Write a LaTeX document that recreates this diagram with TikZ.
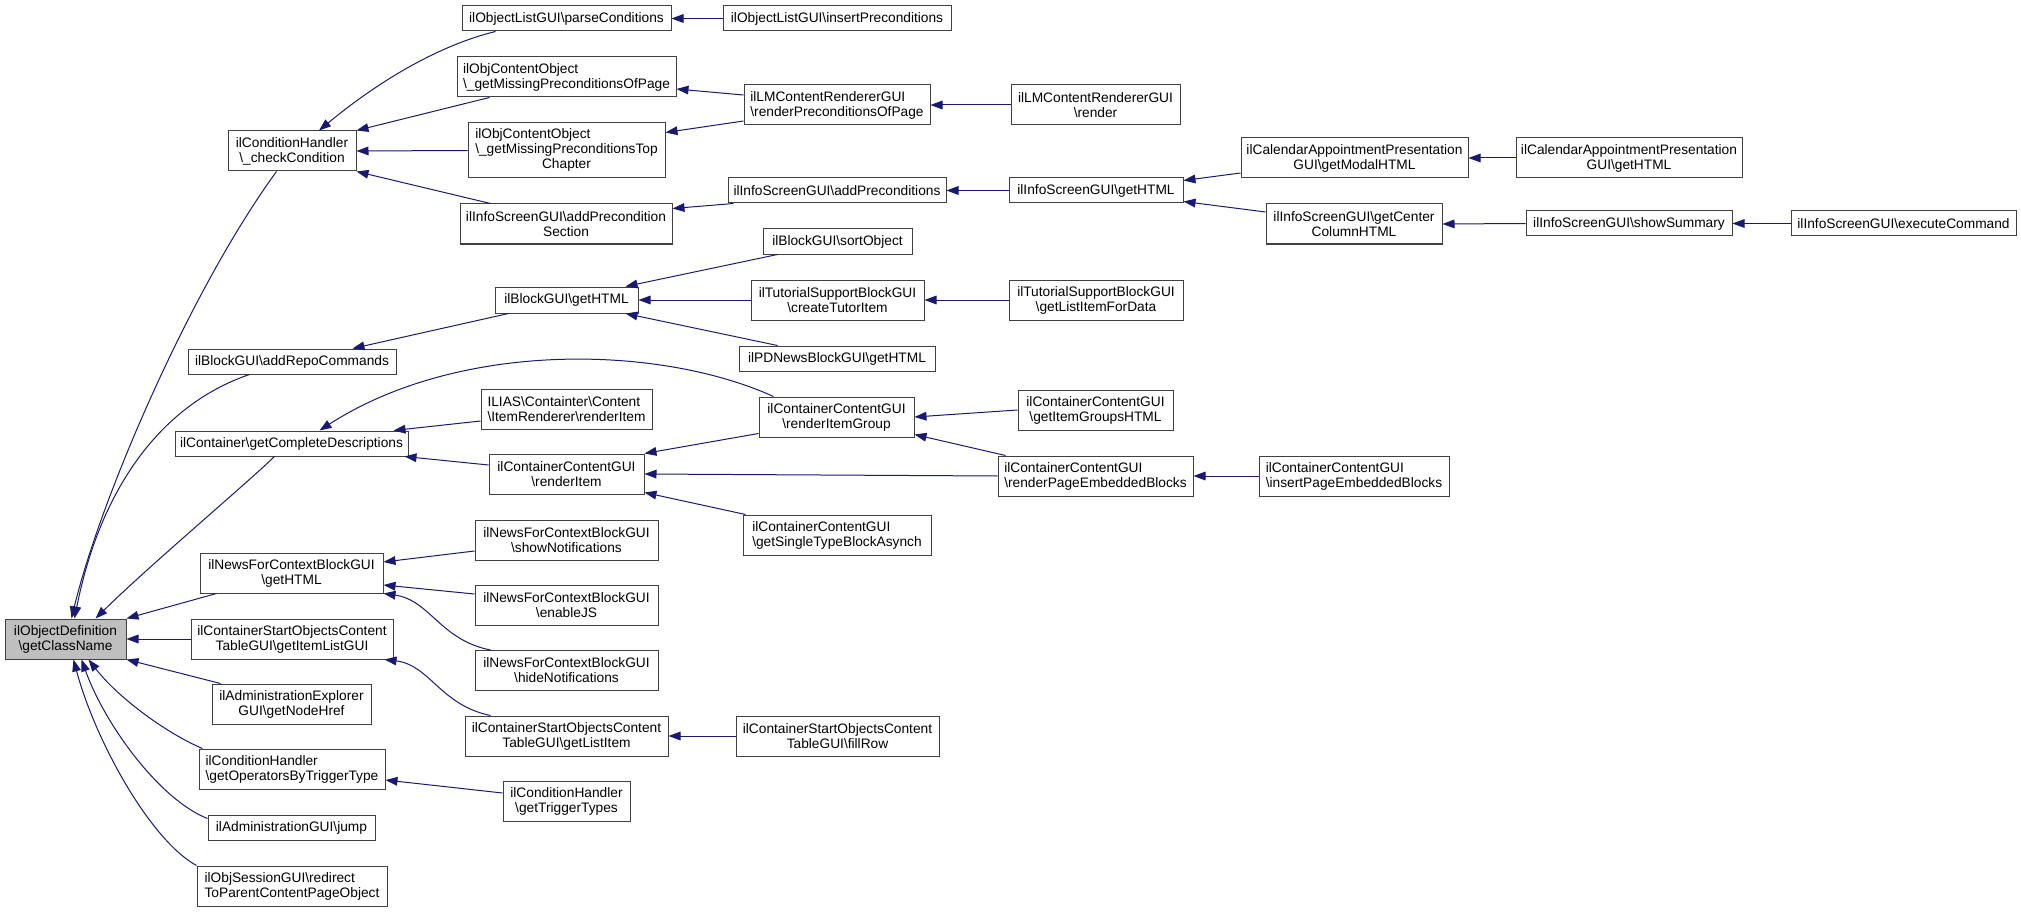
\documentclass[tikz,border=0pt]{standalone}
\usepackage{fontspec}
\setmainfont{Liberation Sans}
\usetikzlibrary{arrows.meta,calc}
\definecolor{edgecol}{HTML}{191970}
\definecolor{bordercol}{HTML}{404040}
\definecolor{hilite}{HTML}{BFBFBF}
\newcommand{\bksl}{\textbackslash}
\newcommand{\boxfont}{\fontsize{10.3}{11.2}\selectfont}
\tikzset{
  box/.style={draw=bordercol, line width=0.75pt, fill=white, inner sep=0pt, font=\boxfont},
  edge/.style={draw=edgecol, line width=0.75pt, -{Triangle[length=9pt,width=6.5pt]}}
}
\newcommand{\mkbox}[7]{\node[box, align=#6, minimum width=#4*0.75pt, minimum height=#5*0.75pt] (#1) at (#2,#3) {#7};}
\begin{document}
\begin{tikzpicture}[x=0.75pt, y=-0.75pt]
\useasboundingbox (0,0) rectangle (2021,913);
% column 1
\node[box, fill=hilite, align=center, minimum width=121*0.75pt, minimum height=40*0.75pt] (gcn) at (65.5,639) {ilObjectDefinition\\\bksl getClassName};
% column 2
\mkbox{cc}{292}{151}{128}{40}{center}{ilConditionHandler\\\bksl\_checkCondition}
\mkbox{arc}{292}{361.5}{208}{25}{center}{ilBlockGUI\bksl addRepoCommands}
\mkbox{gcd}{291.5}{443.5}{233}{25}{center}{ilContainer\bksl getCompleteDescriptions}
\mkbox{ngh}{291.5}{573}{183}{40}{center}{ilNewsForContextBlockGUI\\\bksl getHTML}
\mkbox{gilg}{292}{639}{202}{40}{center}{ilContainerStartObjectsContent\\TableGUI\bksl getItemListGUI}
\mkbox{ae}{291.5}{704}{159}{40}{center}{ilAdministrationExplorer\\GUI\bksl getNodeHref}
\mkbox{gobt}{292}{769}{186}{40}{left}{ilConditionHandler\\\bksl getOperatorsByTriggerType}
\mkbox{jump}{291.5}{827.5}{167}{25}{center}{ilAdministrationGUI\bksl jump}
\mkbox{rd}{292}{886}{190}{40}{left}{ilObjSessionGUI\bksl redirect\\ToParentContentPageObject}
% column 3
\mkbox{pc}{566.5}{18.5}{209}{25}{center}{ilObjectListGUI\bksl parseConditions}
\mkbox{op}{566.5}{77}{219}{40}{left}{ilObjContentObject\\\bksl\_getMissingPreconditionsOfPage}
\node[box, minimum width=197*0.75pt, minimum height=55*0.75pt] (tc) at (566.5,150.5) {\begin{tabular}{@{}l@{}}ilObjContentObject\\\bksl\_getMissingPreconditionsTop\\\multicolumn{1}{@{}c@{}}{Chapter}\end{tabular}};
\mkbox{aps}{566}{224}{212}{40}{center}{ilInfoScreenGUI\bksl addPrecondition\\Section}
\mkbox{bgh}{566.5}{300}{143}{26}{center}{ilBlockGUI\bksl getHTML}
\mkbox{il}{566.5}{409}{171}{40}{left}{ILIAS\bksl Containter\bksl Content\\\bksl ItemRenderer\bksl renderItem}
\mkbox{ri}{566.5}{474}{155}{40}{center}{ilContainerContentGUI\\\bksl renderItem}
\mkbox{show}{566.5}{540}{183}{40}{center}{ilNewsForContextBlockGUI\\\bksl showNotifications}
\mkbox{ejs}{566.5}{605}{183}{40}{center}{ilNewsForContextBlockGUI\\\bksl enableJS}
\mkbox{hide}{566.5}{670.5}{183}{40}{center}{ilNewsForContextBlockGUI\\\bksl hideNotifications}
\mkbox{gli}{566.5}{736}{203}{40}{center}{ilContainerStartObjectsContent\\TableGUI\bksl getListItem}
\mkbox{gtt}{566.5}{801}{127}{40}{center}{ilConditionHandler\\\bksl getTriggerTypes}
% column 4
\mkbox{ip}{837}{18.5}{228}{25}{center}{ilObjectListGUI\bksl insertPreconditions}
\mkbox{rpp}{837}{105}{186}{40}{left}{ilLMContentRendererGUI\\\bksl renderPreconditionsOfPage}
\mkbox{ap}{837}{190.5}{218}{25}{center}{ilInfoScreenGUI\bksl addPreconditions}
\mkbox{so}{837.5}{241.5}{149}{25}{center}{ilBlockGUI\bksl sortObject}
\mkbox{cti}{837.5}{300}{173}{40}{center}{ilTutorialSupportBlockGUI\\\bksl createTutorItem}
\mkbox{pd}{837}{358.5}{196}{25}{center}{ilPDNewsBlockGUI\bksl getHTML}
\mkbox{rig}{836.5}{417}{155}{40}{center}{ilContainerContentGUI\\\bksl renderItemGroup}
\mkbox{gst}{837}{535}{188}{40}{left}{ilContainerContentGUI\\\bksl getSingleTypeBlockAsynch}
\mkbox{fr}{837.5}{736}{203}{40}{center}{ilContainerStartObjectsContent\\TableGUI\bksl fillRow}
% column 5
\mkbox{lmr}{1095.5}{105}{169}{40}{center}{ilLMContentRendererGUI\\\bksl render}
\mkbox{isgh}{1096}{190.5}{174}{25}{center}{ilInfoScreenGUI\bksl getHTML}
\mkbox{lifd}{1096}{300}{174}{40}{center}{ilTutorialSupportBlockGUI\\\bksl getListItemForData}
\mkbox{gig}{1095.5}{410}{155}{40}{center}{ilContainerContentGUI\\\bksl getItemGroupsHTML}
\mkbox{rpeb}{1095.5}{476}{195}{40}{left}{ilContainerContentGUI\\\bksl renderPageEmbeddedBlocks}
% column 6
\mkbox{modal}{1354.5}{158}{227}{40}{center}{ilCalendarAppointmentPresentation\\GUI\bksl getModalHTML}
\mkbox{ccol}{1354}{224}{176}{40}{center}{ilInfoScreenGUI\bksl getCenter\\ColumnHTML}
\mkbox{ipeb}{1354}{476}{190}{40}{left}{ilContainerContentGUI\\\bksl insertPageEmbeddedBlocks}
% column 7
\mkbox{calgh}{1629}{158}{226}{40}{center}{ilCalendarAppointmentPresentation\\GUI\bksl getHTML}
\mkbox{sum}{1629}{223.5}{206}{25}{center}{ilInfoScreenGUI\bksl showSummary}
% column 8
\mkbox{exec}{1903.5}{223.5}{225}{25}{center}{ilInfoScreenGUI\bksl executeCommand}

% edges into getClassName
\draw[edge] ($(cc.south west)+(49,0)$) .. controls (190,290) and (100,500) .. ($(gcn.north west)+(67,0)$);
\draw[edge] ($(arc.south west)+(62,0)$) .. controls (160,405) and (100,490) .. ($(gcn.north west)+(70,0)$);
\draw[edge] ($(gcd.south west)+(100,0)$) .. controls (245,485) and (150,565) .. ($(gcn.north west)+(91,0)$);
\draw[edge] ($(ngh.south west)+(17,0)$) -- (gcn.north east);
\draw[edge] (gilg.west) -- (gcn.east);
\draw[edge] ($(ae.north west)+(9,0)$) -- (gcn.south east);
\draw[edge] ($(gobt.north west)+(4,0)$) .. controls (170,735) and (120,700) .. ($(gcn.south west)+(84,0)$);
\draw[edge] ($(jump.west)+(0,-9)$) .. controls (160,800) and (105,725) .. ($(gcn.south west)+(77,0)$);
\draw[edge] (rd.north west) .. controls (150,840) and (95,740) .. ($(gcn.south west)+(69,0)$);
% edges into checkCondition
\draw[edge] ($(pc.south west)+(34,0)$) .. controls (440,45) and (380,80) .. ($(cc.north)+(27,0)$);
\draw[edge] ($(op.south west)+(33,0)$) -- (cc.north east);
\draw[edge] (tc.west) -- (cc.east);
\draw[edge] ($(aps.north west)+(31,0)$) -- (cc.south east);
% preconditions branch
\draw[edge] (ip.west) -- (pc.east);
\draw[edge] ($(rpp.west)+(0,-10)$) -- ($(op.east)+(0,12)$);
\draw[edge] ($(rpp.west)+(0,16)$) -- ($(tc.east)+(0,-18)$);
\draw[edge] ($(ap.south west)+(6,0)$) -- ($(aps.north east)+(0,5)$);
\draw[edge] (lmr.west) -- (rpp.east);
\draw[edge] (isgh.west) -- (ap.east);
\draw[edge] ($(modal.west)+(0,15)$) -- ($(isgh.east)+(0,-10)$);
\draw[edge] ($(ccol.west)+(0,-12)$) -- ($(isgh.east)+(0,11)$);
\draw[edge] (calgh.west) -- (modal.east);
\draw[edge] (sum.west) -- (ccol.east);
\draw[edge] (exec.west) -- (sum.east);
% block branch
\draw[edge] ($(bgh.south west)+(14,0)$) -- ($(arc.north east)+(-44,0)$);
\draw[edge] ($(so.south west)+(15,0)$) -- ($(bgh.north east)+(-13,0)$);
\draw[edge] (cti.west) -- (bgh.east);
\draw[edge] ($(pd.north west)+(39,0)$) -- ($(bgh.south east)+(-13,0)$);
\draw[edge] (lifd.west) -- (cti.east);
% container branch
\draw[edge] ($(rig.north west)+(15,0)$) .. controls (660,345) and (460,340) .. ($(gcd.north west)+(145,0)$);
\draw[edge] ($(il.west)+(0,12)$) -- ($(gcd.north east)+(-15,0)$);
\draw[edge] ($(ri.west)+(0,-9)$) -- ($(gcd.south east)+(-4,0)$);
\draw[edge] ($(rig.south west)+(0,-4)$) -- (ri.north east);
\draw[edge] (rpeb.west) -- (ri.east);
\draw[edge] ($(gst.north west)+(3,0)$) -- ($(ri.south east)+(0,-2)$);
\draw[edge] (gig.west) -- (rig.east);
\draw[edge] ($(rpeb.north west)+(8,0)$) -- ($(rig.south east)+(0,-3)$);
\draw[edge] (ipeb.west) -- (rpeb.east);
% news branch
\draw[edge] ($(show.west)+(0,11)$) -- ($(ngh.east)+(0,-11)$);
\draw[edge] ($(ejs.west)+(0,-11)$) -- ($(ngh.east)+(0,12)$);
\draw[edge] ($(hide.north west)+(16,0)$) .. controls (440,640) and (430,600) .. (ngh.south east);
% start objects branch
\draw[edge] ($(gli.north west)+(26,0)$) .. controls (440,705) and (430,665) .. ($(gilg.south east)+(-9,0)$);
\draw[edge] (fr.west) -- (gli.east);
% conditions branch
\draw[edge] ($(gtt.west)+(0,-8)$) -- ($(gobt.east)+(0,11)$);
\end{tikzpicture}
\end{document}
